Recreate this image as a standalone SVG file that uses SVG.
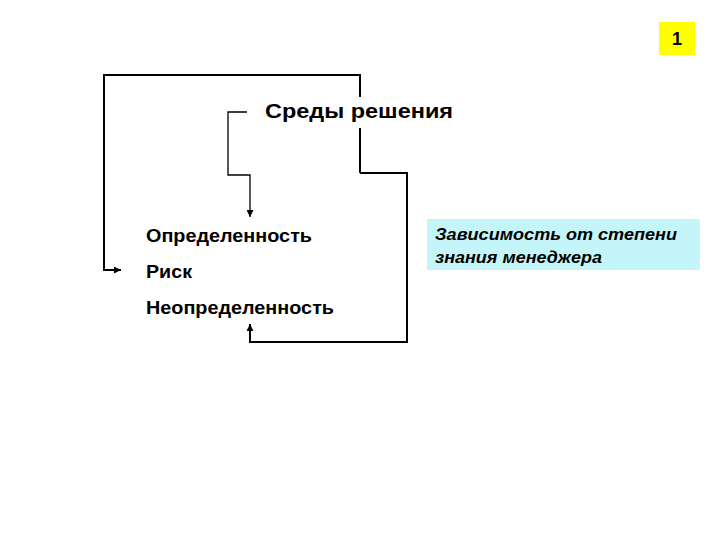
<svg xmlns="http://www.w3.org/2000/svg" width="720" height="540" viewBox="0 0 720 540">
<style>
.ln{fill:none;stroke:#000;stroke-width:2}
.ln1{fill:none;stroke:#000;stroke-width:1.3}
.lbl{font-family:"Liberation Sans",Arial,sans-serif;font-weight:bold;font-size:18px;fill:#000}
.note{font-family:"Liberation Sans",Arial,sans-serif;font-weight:bold;font-style:italic;font-size:17px;fill:#000}
</style>
<defs>
<marker id="ah2" viewBox="0 0 10 10" refX="10" refY="5" markerWidth="7" markerHeight="7" orient="auto" markerUnits="userSpaceOnUse">
<path d="M0,0 L10,5 L0,10 z" fill="#000"/>
</marker>
</defs>
<rect width="720" height="540" fill="#fff"/>
<g id="connectors">
<path class="ln" d="M360,173 L360,75 L104,75 L104,270 L121,270" marker-end="url(#ah2)"/>
<path class="ln" d="M360,173 L407,173 L407,342 L250,342 L250,324" marker-end="url(#ah2)"/>
<path class="ln1" d="M247,112 L228,112 L228,175 L250,175 L250,217" marker-end="url(#ah2)"/>
</g>
<g id="title">
<rect x="258" y="97" width="200" height="31" fill="#fff"/>
<text x="265" y="118" font-family="Liberation Sans, Arial, sans-serif" font-weight="bold" font-size="20" fill="#000" textLength="188" lengthAdjust="spacingAndGlyphs">Среды решения</text>
</g>
<g id="certainty"><text class="lbl" x="146" y="242" textLength="166" lengthAdjust="spacingAndGlyphs">Определенность</text></g>
<g id="risk"><text class="lbl" x="146" y="278" textLength="46" lengthAdjust="spacingAndGlyphs">Риск</text></g>
<g id="uncertainty"><text class="lbl" x="146" y="314" textLength="188" lengthAdjust="spacingAndGlyphs">Неопределенность</text></g>
<g id="note">
<rect x="427" y="219" width="273" height="51" fill="#C4F5F8"/>
<text class="note" x="435" y="240" textLength="242" lengthAdjust="spacingAndGlyphs">Зависимость от степени</text>
<text class="note" x="435" y="263" textLength="167" lengthAdjust="spacingAndGlyphs">знания менеджера</text>
</g>
<g id="badge">
<rect x="659" y="22" width="36" height="33" fill="#FFFF00"/>
<text x="677" y="45" text-anchor="middle" font-family="Liberation Sans, Arial, sans-serif" font-weight="bold" font-size="18" fill="#000">1</text>
</g>
</svg>
